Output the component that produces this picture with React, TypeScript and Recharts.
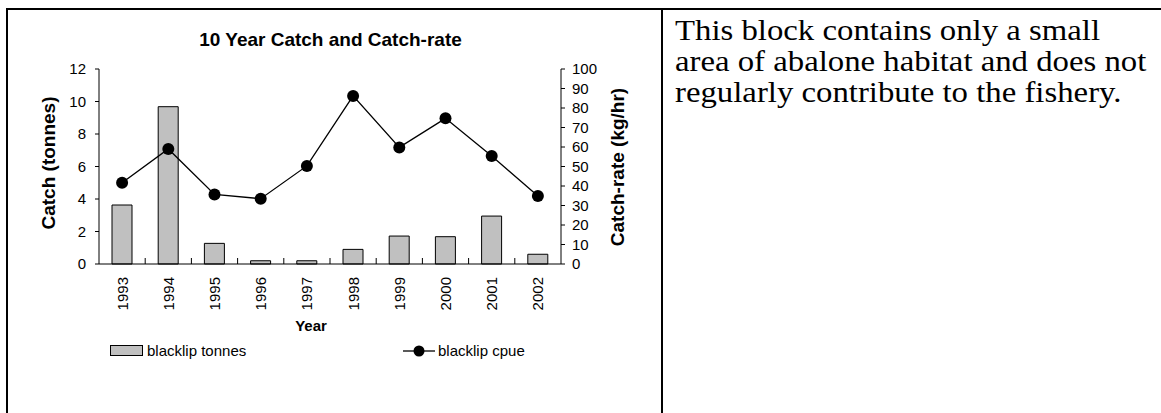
import {
  ComposedChart,
  Bar,
  Line,
  XAxis,
  YAxis,
} from 'recharts'

// blacklip abalone, 10 year catch history
const years = ['1993', '1994', '1995', '1996', '1997', '1998', '1999', '2000', '2001', '2002']
const tonnes = [3.63, 9.68, 1.27, 0.2, 0.2, 0.9, 1.72, 1.68, 2.95, 0.6]
const cpue = [41.7, 59, 35.7, 33.5, 50.3, 86.2, 59.8, 74.7, 55.4, 34.9]

const catchTicks = [0, 2, 4, 6, 8, 10, 12]
const rateTicks = [0, 10, 20, 30, 40, 50, 60, 70, 80, 90, 100]

const data = years.map((year, i) => ({ year, tonnes: tonnes[i], cpue: cpue[i] }))

const SANS = '"Liberation Sans", Arial, sans-serif'
const SERIF = '"Liberation Serif", "Times New Roman", serif'

const CHART_W = 653
const CHART_H = 403
const PLOT_W = 462
const HALF_BAND = PLOT_W / years.length / 2

function YearTick(props: any) {
  const { x, y, payload, index } = props
  const ty = y + 13
  return (
    <g>
      {index > 0 && (
        <line x1={x - HALF_BAND} x2={x - HALF_BAND} y1={y - 6} y2={y} stroke="#000" />
      )}
      <text
        x={x}
        y={ty}
        transform={`rotate(-90, ${x}, ${ty})`}
        textAnchor="end"
        dominantBaseline="central"
        fontSize={15}
        fontFamily={SANS}
        fill="#000"
      >
        {payload.value}
      </text>
    </g>
  )
}

// axis titles sit at fixed spots in the chart's svg
function AxisTitle({ tx, ty, rot = 0, text, size = 19 }: any) {
  return (
    <text
      x={tx}
      y={ty}
      transform={rot ? `rotate(${rot}, ${tx}, ${ty})` : undefined}
      textAnchor="middle"
      fontSize={size}
      fontWeight="bold"
      fontFamily={SANS}
      fill="#000"
    >
      {text}
    </text>
  )
}

function CatchChart() {
  return (
    <ComposedChart
      width={CHART_W}
      height={CHART_H}
      data={data}
      margin={{ top: 59, right: 40, bottom: 109, left: 31 }}
    >
      <XAxis
        dataKey="year"
        height={40}
        stroke="#000"
        tickLine={false}
        tickSize={0}
        tickMargin={0}
        interval={0}
        tick={<YearTick />}
        label={<AxisTitle tx={303} ty={321} text="Year" size={15} />}
      />
      <YAxis
        yAxisId="left"
        orientation="left"
        width={60}
        domain={[0, 12]}
        ticks={catchTicks}
        interval={0}
        stroke="#000"
        tickSize={4}
        tickMargin={9}
        tick={{ fontSize: 15, fill: '#000', fontFamily: SANS }}
        label={<AxisTitle tx={47} ty={153} rot={-90} text="Catch (tonnes)" />}
      />
      <YAxis
        yAxisId="right"
        orientation="right"
        width={60}
        domain={[0, 100]}
        ticks={rateTicks}
        interval={0}
        stroke="#000"
        tickSize={4}
        tickMargin={7}
        tick={{ fontSize: 15, fill: '#000', fontFamily: SANS, textAnchor: 'start' }}
        label={<AxisTitle tx={616} ty={157} rot={-90} text="Catch-rate (kg/hr)" />}
      />
      <Bar
        yAxisId="left"
        dataKey="tonnes"
        name="blacklip tonnes"
        fill="#c0c0c0"
        stroke="#000"
        strokeWidth={1}
        barSize={20}
        isAnimationActive={false}
      />
      <Line
        yAxisId="right"
        dataKey="cpue"
        name="blacklip cpue"
        stroke="#000"
        strokeWidth={1.3}
        dot={{ r: 6, fill: '#000', stroke: '#000', strokeWidth: 0 }}
        activeDot={false}
        isAnimationActive={false}
      />
    </ComposedChart>
  )
}

export default function App() {
  return (
    <div
      style={{
        position: 'absolute',
        left: 0,
        top: 0,
        width: 1161,
        height: 413,
        background: '#fff',
        overflow: 'hidden',
        fontFamily: SANS,
      }}
    >
      {/* table rules */}
      <div style={{ position: 'absolute', left: 6, top: 8, width: 1155, height: 2, background: '#000' }} />
      <div style={{ position: 'absolute', left: 6, top: 8, width: 2, height: 405, background: '#000' }} />
      <div style={{ position: 'absolute', left: 661, top: 8, width: 2, height: 405, background: '#000' }} />

      <div style={{ position: 'absolute', left: 8, top: 10 }}>
        <div
          style={{
            position: 'absolute',
            left: 0,
            top: 19,
            width: CHART_W - 8,
            textAlign: 'center',
            fontSize: 19,
            fontWeight: 'bold',
            zIndex: 1,
          }}
        >
          10 Year Catch and Catch-rate
        </div>
        <CatchChart />
        {/* legend */}
        <div style={{ position: 'absolute', left: 102, top: 332, fontSize: 15, display: 'flex', alignItems: 'center' }}>
          <svg width={34} height={12} style={{ marginRight: 3 }}>
            <rect x={0.5} y={0.5} width={32} height={10} fill="#c0c0c0" stroke="#000" />
          </svg>
          <span>blacklip tonnes</span>
        </div>
        <div style={{ position: 'absolute', left: 395, top: 332, fontSize: 15, display: 'flex', alignItems: 'center' }}>
          <svg width={34} height={12} style={{ marginRight: 1 }}>
            <line x1={0} x2={32} y1={6} y2={6} stroke="#000" strokeWidth={1.3} />
            <circle cx={16} cy={6} r={5.5} fill="#000" />
          </svg>
          <span>blacklip cpue</span>
        </div>
      </div>

      {/* note cell; the serif face runs a little wide in this layout */}
      <div
        style={{
          position: 'absolute',
          left: 675,
          top: 15,
          fontFamily: SERIF,
          fontSize: 29,
          lineHeight: '31px',
          color: '#000',
          whiteSpace: 'nowrap',
          transform: 'scaleX(1.13)',
          transformOrigin: 'left top',
        }}
      >
        This block contains only a small
        <br />
        area of abalone habitat and does not
        <br />
        regularly contribute to the fishery.
      </div>
    </div>
  )
}
